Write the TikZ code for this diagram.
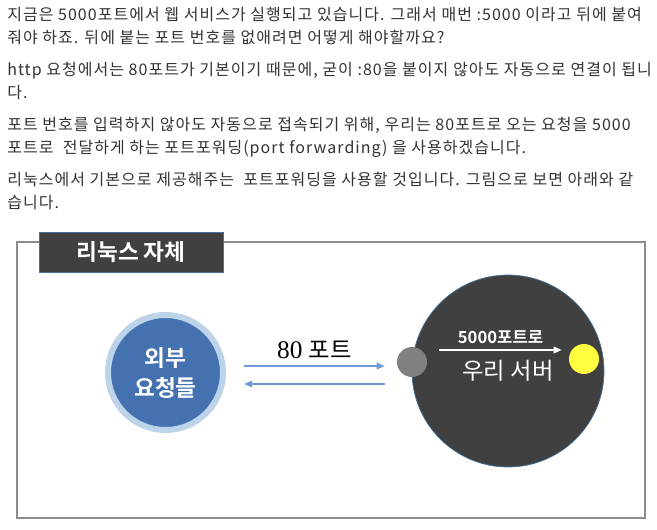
\documentclass[tikz,border=0pt]{standalone}
\usepackage{fontspec}
\setmainfont{Noto Sans CJK KR}[BoldFont={Noto Sans CJK KR Bold}]
\newfontfamily\bodyfont{Noto Sans CJK KR}[LetterSpace=6.5]
\newfontfamily\numserif{Liberation Serif}
\usetikzlibrary{calc,arrows.meta}

\definecolor{bodytext}{RGB}{51,51,51}
\definecolor{frameline}{RGB}{140,140,140}
\definecolor{titlefill}{RGB}{64,64,64}
\definecolor{titleline}{RGB}{65,113,156}
\definecolor{clientfill}{RGB}{68,114,176}
\definecolor{clientring}{RGB}{189,211,234}
\definecolor{serverfill}{RGB}{64,64,64}
\definecolor{flowline}{RGB}{110,155,215}
\definecolor{portgray}{RGB}{128,128,128}
\definecolor{portyellow}{RGB}{255,255,64}

\begin{document}
\begin{tikzpicture}[x=0.75pt,y=-0.75pt]
\tikzstyle{every node}=[font=\fontsize{11.5}{14}\selectfont]
\tikzstyle{para}=[anchor=base west, inner sep=0pt, text=bodytext, font=\bodyfont\fontsize{12}{14}\selectfont]
\tikzstyle{titlebox}=[rectangle, fill=titlefill, draw=titleline, line width=0.6pt, minimum width=138pt, minimum height=30pt, text=white, font=\fontsize{17}{17}\selectfont\bfseries]
\tikzstyle{client}=[circle, fill=clientfill, draw=clientring, line width=4.5pt, minimum size=86.25pt, inner sep=0pt, align=center, text=white, font=\fontsize{17}{22.5}\selectfont\bfseries]
\tikzstyle{server}=[circle, fill=serverfill, draw=titleline, line width=0.5pt, minimum size=144pt, inner sep=0pt, text=white, font=\fontsize{17.5}{17.5}\selectfont]
\tikzstyle{port}=[circle, minimum size=22.5pt, inner sep=0pt]
\tikzstyle{flow}=[draw=flowline, line width=0.8pt, -{Triangle[length=6pt,width=5pt]}]
\useasboundingbox (0,0) rectangle (657,529);

% text above the figure
\node[para] (l1) at (7,20) {지금은 5000포트에서 웹 서비스가 실행되고 있습니다. 그래서 매번 :5000 이라고 뒤에 붙여};
\node[para] (l2) at (7,43) {줘야 하죠. 뒤에 붙는 포트 번호를 없애려면 어떻게 해야할까요?};
\node[para] (l3) at (7,75) {http 요청에서는 80포트가 기본이기 때문에, 굳이 :80을 붙이지 않아도 자동으로 연결이 됩니};
\node[para] (l4) at (7,98) {다.};
\node[para] (l5) at (7,130) {포트 번호를 입력하지 않아도 자동으로 접속되기 위해, 우리는 80포트로 오는 요청을 5000};
\node[para] (l6) at (7,153) {포트로 \ 전달하게 하는 포트포워딩(port forwarding) 을 사용하겠습니다.};
\node[para] (l7) at (7,185) {리눅스에서 기본으로 제공해주는 \ 포트포워딩을 사용할 것입니다. 그림으로 보면 아래와 같};
\node[para] (l8) at (7,208) {습니다.};

% figure
\draw[frameline, line width=0.9pt] (17,242) rectangle (645,518);
\node[titlebox] (title) at (131,252) {리눅스 자체};

\node[client] (client) at (165.5,372.5) {외부\\요청들};
\node[server] (server) at (508,371) {우리 서버};
\node[port, fill=portgray] (inport) at (412,362) {};
\node[port, fill=portyellow] (outport) at (584,359) {};

\draw[flow] ($(client.east)+(18,-6.5)$) -- ($(inport.west)+(-12,4)$)
  node[midway, above=2pt, text=black] {{\numserif\fontsize{19}{19}\selectfont 80}\ \,{\fontsize{17.5}{17.5}\selectfont 포트}};
\draw[flow] ($(inport.west)+(-12,22)$) -- ($(client.east)+(18,11.5)$);

\draw[white, line width=1.2pt, -{Triangle[length=6pt,width=5pt]}] ($(inport.east)+(12,-12)$) -- ($(outport.west)+(-7,-9)$)
  node[midway, above=1pt, text=white, font=\fontsize{12.5}{12.5}\selectfont\bfseries] {5000포트로};
\end{tikzpicture}
\end{document}
